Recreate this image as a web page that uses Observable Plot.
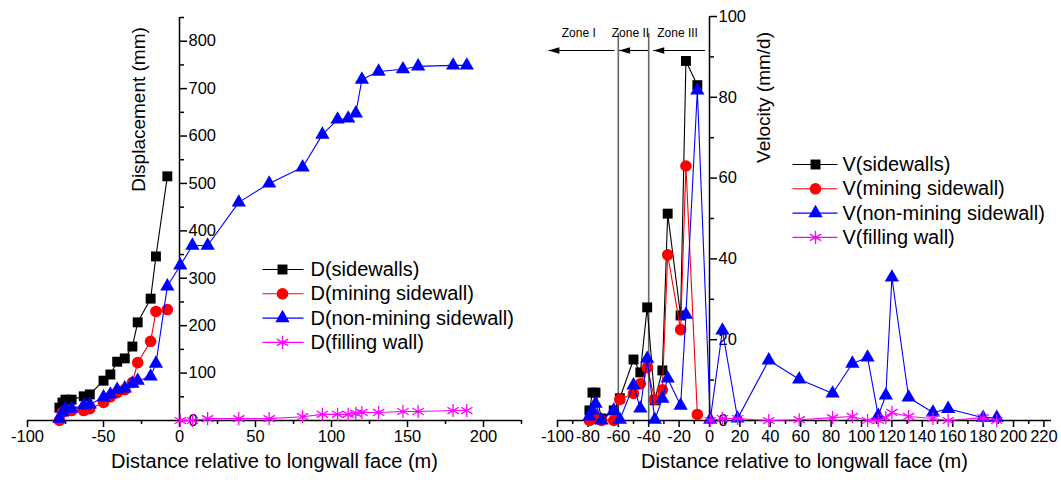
<!DOCTYPE html>
<html><head><meta charset="utf-8">
<script src="https://cdn.jsdelivr.net/npm/d3@7"></script>
<script src="https://cdn.jsdelivr.net/npm/@observablehq/plot@0.6"></script>
<style>
body{margin:0;background:#fff;}
#wrap{position:relative;width:1061px;height:484px;overflow:hidden;background:#fff;}
#left,#right{position:absolute;top:0;}
#left{left:0}
#right{left:530px}
</style></head>
<body><div id="wrap"><div id="left"></div><div id="right"></div></div>
<script>
// ---------- DATA ----------
// measurement positions (m, relative to longwall face)
const xNeg = [-79, -77, -75, -71, -63, -59, -50, -45.5, -41, -36, -31, -27.5, -19, -15.5, -8];
const xPos = [0.5, 8.5, 18.5, 39, 59, 81, 94, 104, 111, 116, 120, 131, 147, 157, 180, 189];

// Displacement (mm)
const D_sidewalls   = [27, 38, 44, 44, 51, 55, 84, 97, 124, 131, 156, 207, 257, 346, 515];
const D_mining      = [0, 17, 21, 21, 21, 25, 38, 50, 59, 65, 80, 122, 167, 230, 234];
const D_nonMiningNeg = [4, 17, 25, 25, 32, 34, 49, 55, 65, 68, 78, 84, 93, 120, 283];
const D_nonMiningPos = [327, 369, 369, 460, 500, 534, 603, 635, 637, 648, 719, 736, 741, 747, 749, 749];
const D_filling     = [0, 0, 4, 4, 4, 8, 13, 13, 13, 15, 17, 17, 19, 19, 21, 21];

// Velocity (mm/d)
const V_sidewalls   = [2.5, 6.9, 6.9, 0.5, 2.5, 5.5, 15.1, 11.9, 28, 5, 12.4, 51.2, 26, 89, 83];
const V_mining      = [0, 1, 0.5, 0, 0, 5.2, 6.7, 9.1, 13.1, 5.2, 7.6, 41, 22.5, 63, 1.5];
const V_nonMiningNeg = [1, 2.5, 4.2, 0, 2.5, 0.2, 8.7, 3, 15.3, 0.2, 5.4, 10.4, 3.7, 26.2, 81.7];
const V_nonMiningPos = [0.2, 22.3, 0.5, 14.9, 10.2, 6.7, 14.1, 15.6, 1.2, 6.2, 35.4, 5.7, 2.0, 2.9, 0.7, 0.7];
const V_filling     = [0, 0.5, 0.5, 0, 0.2, 0.7, 1, 0, 0, 0.7, 2, 1, 0.5, 0, 0.7, 0];

// legend / series labels
const namesD = ["D(sidewalls)", "D(mining sidewall)", "D(non-mining sidewall)", "D(filling wall)"];
const namesV = ["V(sidewalls)", "V(mining sidewall)", "V(non-mining sidewall)", "V(filling wall)"];

// axis ticks
const xMajorL = [-100, -50, 0, 50, 100, 150, 200];
const xMinorL = [-75, -25, 25, 75, 125, 175, 225];
const yMajorL = [0, 100, 200, 300, 400, 500, 600, 700, 800];
const yMinorL = [50, 150, 250, 350, 450, 550, 650, 750, 850];
const xMajorR = [-100, -80, -60, -40, -20, 0, 20, 40, 60, 80, 100, 120, 140, 160, 180, 200, 220];
const xMinorR = [-90, -70, -50, -30, -10, 10, 30, 50, 70, 90, 110, 130, 150, 170, 190, 210];
const yMajorR = [0, 20, 40, 60, 80, 100];
const yMinorR = [10, 30, 50, 70, 90];

// zones
const zoneBounds = [-60, -40];
const zoneLabels = ["Zone I", "Zone II", "Zone III"];
const zoneLabelX = [-86, -52, -21];
const zoneArrowFrom = [-62.5, -40.5, -3];
const zoneArrowTo = [-106, -59.5, -37];

// ---------- STYLE ----------
const FONT = "Liberation Sans, Arial, sans-serif";
const colors = ["black", "red", "blue", "magenta"];
const symbols = ["square", "circle", "triangle", "asterisk"];
const radii = [5.6, 5.8, 5.3, 6.2];
const arrowHead = {draw(ctx) { ctx.moveTo(0, 0); ctx.lineTo(11, -3.2); ctx.lineTo(11, 3.2); ctx.closePath(); }};

const H = 484;

function panel(cfg) {
  const {width, ml, mr, mt, mb, xd, yd} = cfg;
  const fw = width - ml - mr, fh = H - mt - mb;
  const fx = px => xd[0] + (px - ml) / fw * (xd[1] - xd[0]);
  const fy = py => yd[0] + (H - mb - py) / fh * (yd[1] - yd[0]);
  const x0px = ml + (0 - xd[0]) / (xd[1] - xd[0]) * fw;
  const dxY = x0px - (width - mr);
  return {fx, fy, dxY};
}

function seriesMarks(xs, ys, i) {
  const data = xs.map((x, k) => ({x, y: ys[k]}));
  const filled = symbols[i] !== "asterisk";
  return [
    Plot.line(data, {x: "x", y: "y", stroke: colors[i], strokeWidth: 1.1}),
    Plot.dot(data, {x: "x", y: "y", symbol: symbols[i], r: radii[i],
      fill: filled ? colors[i] : "none", stroke: filled ? "none" : colors[i], strokeWidth: 1.3})
  ];
}

function legendMarks(P, names, lx1, lx2, mx, tx, ry0, step, fontSize) {
  const out = [];
  names.forEach((n, i) => {
    const y = P.fy(ry0 + step * i);
    const filled = symbols[i] !== "asterisk";
    out.push(Plot.link([0], {x1: P.fx(lx1), x2: P.fx(lx2), y1: y, y2: y, stroke: colors[i], strokeWidth: 1.1}));
    out.push(Plot.dot([0], {x: P.fx(mx), y, symbol: symbols[i], r: radii[i],
      fill: filled ? colors[i] : "none", stroke: filled ? "none" : colors[i], strokeWidth: 1.3}));
    out.push(Plot.text([n], {x: P.fx(tx), y, text: d => d, textAnchor: "start", lineAnchor: "middle", fontSize, fill: "black"}));
  });
  return out;
}

function axes(P, xMaj, xMin, yMaj, yMin, xd, yTop) {
  return [
    Plot.ruleY([0], {x1: xd[0], x2: xd[1], stroke: "black", strokeWidth: 1.5}),
    Plot.ruleX([0], {y1: 0, y2: yTop, stroke: "black", strokeWidth: 1.5}),
    Plot.axisX(xMaj, {tickSize: 7, tickPadding: 3, strokeWidth: 1.5, fontSize: 16.5, label: null, tickFormat: d => String(d)}),
    Plot.axisX(xMin, {tickSize: 4, strokeWidth: 1.5, label: null, tickFormat: () => ""}),
    Plot.axisY(yMaj, {anchor: "right", dx: P.dxY, tickSize: 7, tickPadding: 2, strokeWidth: 1.5, fontSize: 16.5, label: null, tickFormat: d => String(d)}),
    Plot.axisY(yMin, {anchor: "right", dx: P.dxY, tickSize: 4, strokeWidth: 1.5, label: null, tickFormat: () => ""})
  ];
}

// ---------- LEFT PANEL ----------
{
  const cfg = {width: 530, ml: 27, mr: 9, mt: 17, mb: 64, xd: [-100, 225], yd: [0, 850]};
  const P = panel(cfg);
  const marks = [
    ...axes(P, xMajorL, xMinorL, yMajorL, yMinorL, cfg.xd, 850),
    ...seriesMarks(xNeg, D_sidewalls, 0),
    ...seriesMarks(xNeg, D_mining, 1),
    ...seriesMarks(xNeg.concat(xPos), D_nonMiningNeg.concat(D_nonMiningPos), 2),
    ...seriesMarks(xPos, D_filling, 3),
    ...legendMarks(P, namesD, 262, 303, 282, 310, 269, 24.3, 20),
    Plot.text(["Displacement (mm)"], {x: P.fx(138), y: P.fy(109), text: d => d, rotate: -90, fontSize: 19, fill: "black"}),
    Plot.text(["Distance relative to longwall face (m)"], {frameAnchor: "bottom", dy: 47, text: d => d, fontSize: 20, fill: "black"})
  ];
  const svg = Plot.plot({
    width: cfg.width, height: H, marginLeft: cfg.ml, marginRight: cfg.mr, marginTop: cfg.mt, marginBottom: cfg.mb,
    x: {domain: cfg.xd}, y: {domain: cfg.yd},
    clip: false,
    style: {fontFamily: FONT, fontSize: "16px", color: "black", background: "white", overflow: "visible"},
    marks
  });
  document.getElementById("left").appendChild(svg);
}

// ---------- RIGHT PANEL ----------
{
  const cfg = {width: 531, ml: 27, mr: 10, mt: 16, mb: 64, xd: [-100, 225], yd: [0, 100]};
  const P = panel(cfg);
  const off = 530;
  const Pp = {fx: px => P.fx(px - off), fy: P.fy, dxY: P.dxY};
  const zoneTop = P.fy(33), arrowY = P.fy(50);
  const arrows = zoneArrowFrom.map((a, i) => ({x1: a, x2: zoneArrowTo[i]}));
  const marks = [
    Plot.ruleX(zoneBounds, {y1: 0, y2: zoneTop, stroke: "#666", strokeWidth: 1.6}),
    Plot.link(arrows, {x1: "x1", x2: "x2", y1: arrowY, y2: arrowY, stroke: "black", strokeWidth: 1.1}),
    Plot.dot(arrows, {x: "x2", y: arrowY, symbol: arrowHead, r: 3, fill: "black", stroke: "none"}),
    Plot.text(zoneLabels, {x: (d, i) => zoneLabelX[i], y: zoneTop, text: d => d, fontSize: 12, fill: "black"}),
    ...axes(P, xMajorR, xMinorR, yMajorR, yMinorR, cfg.xd, 100),
    ...seriesMarks(xNeg, V_sidewalls, 0),
    ...seriesMarks(xNeg, V_mining, 1),
    ...seriesMarks(xNeg.concat(xPos), V_nonMiningNeg.concat(V_nonMiningPos), 2),
    ...seriesMarks(xPos, V_filling, 3),
    ...legendMarks(Pp, namesV, 792, 837, 815, 842, 164, 24.3, 20),
    Plot.text(["Velocity (mm/d)"], {x: Pp.fx(763), y: P.fy(97), text: d => d, rotate: -90, fontSize: 19, fill: "black"}),
    Plot.text(["Distance relative to longwall face (m)"], {frameAnchor: "bottom", dy: 47, text: d => d, fontSize: 20, fill: "black"})
  ];
  const svg = Plot.plot({
    width: cfg.width, height: H, marginLeft: cfg.ml, marginRight: cfg.mr, marginTop: cfg.mt, marginBottom: cfg.mb,
    x: {domain: cfg.xd}, y: {domain: cfg.yd},
    clip: false,
    style: {fontFamily: FONT, fontSize: "16px", color: "black", background: "white", overflow: "visible"},
    marks
  });
  document.getElementById("right").appendChild(svg);
}
</script>
</body></html>
